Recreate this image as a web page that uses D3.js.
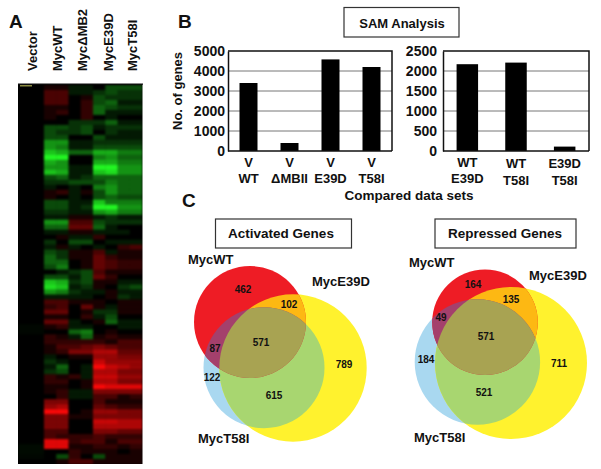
<!DOCTYPE html>
<html><head><meta charset="utf-8">
<script src="https://cdn.jsdelivr.net/npm/d3@7"></script>
<style>html,body{margin:0;padding:0;background:#fff}svg{display:block}text{font-family:"Liberation Sans",Arial,sans-serif;font-weight:bold;fill:#111}</style>
</head><body><svg id="c" width="601" height="469"></svg>
<script>
// ---- Heat map values: negative = green, positive = red (scale -10..10)
const heatColumns = ["Vector","MycWT","Myc\u0394MB2","MycE39D","MycT58I"];
const vector = [0,0,0,0,0,0,0,0,0,0,0,0,0,0,0,0,0,0,0,0,0,0,0,0,0,0,0,0,0,0,0,0,0,0,0,0,0,0,0,0,0,0,0,0,0,0,0,0,-0.3,-0.3,0,0,0,0,0,0,0,0,0,0,0,0,0,0,0,0,0,0,0,0,0,0,-0.4,-0.4,-0.3,0];
const wt1 = [1,3,3,3,1,1,1,0,-3,-3,-3,-6,-6,-8,-10,-7,-6,-8,-3,-2,-1,1,1,-3,-3,-2,-1,-6,-4,-1,0,-2,-1,-3,-4,-4,-3,0,-3,-8,-9,-6,-1,3,2,4,1,4,1,0,2,2,1,1,-1,-2,-1,-2,2,2,1,1,0,5,6,10,5,5,5,3,3,9,9,0,0,0];
const wt2 = [1,3,3,3,1,2,0,0,-3,-2,-3,-6,-5,-7,-10,-6,-6,-7,-4,-2,0,2,0,-3,-3,-2,-1,-6,-4,-1,1,0,1,-2,-2,-4,-5,-1,-3,-7,-8,-5,-1,3,3,4,1,4,2,0,1,2,3,2,0,-1,-4,-3,1,2,1,2,2,5,7,10,5,5,5,3,2,9,9,0,-3,1];
const mb1 = [-1,-1,0,0,0,0,0,-2,-2,-2,0,-1,-1,-4,0,0,-1,-1,-1,-3,-1,-1,-1,-1,-1,-1,1,3,4,1,-1,-3,-1,1,1,0,0,-2,-1,-2,-1,-2,-1,1,0,0,0,-1,-1,-4,-1,2,3,5,1,0,0,0,2,0,0,-1,-1,0,0,0,1,0,0,0,2,2,1,2,2,3];
const mb2 = [-1,-1,1,2,2,2,2,-2,-3,-3,0,-1,-1,-4,0,0,-1,-1,-2,-3,0,1,0,-1,-2,-1,1,3,4,1,-1,-3,0,1,1,1,1,-3,-3,-3,-2,-1,-1,1,4,1,2,0,-1,-5,-4,2,4,5,1,0,-1,-1,-1,1,1,-1,-1,0,0,1,1,0,0,0,2,3,1,1,0,3];
const e1 = [0,-2,-3,-3,-4,-4,0,-2,-1,0,-3,-2,-3,-7,-5,-7,-10,-8,-4,-3,-5,-3,-3,-8,-10,-6,-1,-3,-4,-1,2,0,-1,3,4,4,4,3,4,1,1,-1,0,1,1,-2,-1,1,0,0,1,2,5,7,6,8,10,7,8,7,10,5,3,3,4,6,5,8,7,5,3,3,2,1,-3,1];
const e2 = [-3,-3,-2,-4,-3,-1,-1,-4,-2,-2,-1,-2,-3,-7,-6,-7,-10,-9,-4,-5,-6,-6,-4,-5,-10,-7,-2,-2,-1,-1,0,-1,0,-1,2,3,3,1,2,1,0,1,1,0,-1,-2,-3,-4,0,1,2,1,4,7,6,6,8,7,8,7,9,5,3,1,3,6,5,8,7,5,2,1,2,1,1,1];
const t1 = [-3,-2,-2,-1,-2,-1,0,-1,-2,-1,-1,-2,-3,-5,-4,-5,-6,-6,-4,-4,-4,-4,-3,-5,-6,-5,-1,-2,0,-1,0,-1,2,1,1,2,2,1,0,-1,-2,-1,-2,1,1,1,0,-1,-1,0,1,3,3,4,5,6,7,5,6,5,9,5,1,1,2,5,5,7,7,4,2,3,1,0,1,1];
const t2 = [-3,-2,-2,-1,-2,-1,0,-1,-2,-1,-1,-2,-3,-5,-4,-5,-6,-6,-4,-4,-4,-4,-3,-5,-6,-5,-1,-2,0,0,0,-1,3,1,1,2,2,1,0,-1,-3,-1,-1,1,1,1,0,-1,-1,0,1,3,3,4,5,6,6,5,6,5,9,5,2,1,2,5,5,7,7,4,2,3,2,1,1,1];

// ---- Bar charts
const barCatsLeft = [["V","WT"],["V","\u0394MBII"],["V","E39D"],["V","T58I"]];
const barValsLeft = [3400,400,4580,4200];
const barTicksLeft = [0,1000,2000,3000,4000,5000];
const barCatsRight = [["WT","E39D"],["WT","T58I"],["E39D","T58I"]];
const barValsRight = [2170,2210,110];
const barTicksRight = [0,500,1000,1500,2000,2500];

// ---- Venn counts and set names
const setNames = ["MycWT","MycE39D","MycT58I"];
const activatedCounts = [462,102,571,87,122,789,615];
const repressedCounts = [164,135,571,49,184,711,521];

const svg = d3.select("#c");
svg.append("rect").attr("width",601).attr("height",469).attr("fill","#fff");

// ---------- Panel letters
[["A",9,28],["B",178,28],["C",182,207]].forEach(([t,x,y])=>{
  svg.append("text").attr("x",x).attr("y",y).attr("font-size",19).text(t);
});

// ---------- Heat map
const hmX = d3.scaleLinear().domain([0,8]).range([44,142]);
const hmY = d3.scaleBand().domain(d3.range(76)).range([85,464]);
const hmColor = d3.scaleLinear().domain([-10,0,10]).range(["#22f522","#000","#f80808"]);
svg.append("clipPath").attr("id","hmclip").append("rect").attr("x",18).attr("y",84).attr("width",124.5).attr("height",380);
const hmOuter = svg.append("g").attr("clip-path","url(#hmclip)");
const hm = hmOuter.append("g").style("filter","blur(1px)");
hm.append("rect").attr("x",14).attr("y",80).attr("width",132).attr("height",388).attr("fill","#000");
vector.forEach((v,i)=>hm.append("rect").attr("x",18).attr("y",hmY(i)).attr("width",26).attr("height",hmY.bandwidth()+.5).attr("fill",hmColor(v)));
[wt1,wt2,mb1,mb2,e1,e2,t1,t2].forEach((col,c)=>{
  hm.selectAll(null).data(col).join("rect")
    .attr("x",hmX(c)).attr("width",hmX(c+1)-hmX(c)+.5)
    .attr("y",(d,i)=>hmY(i)).attr("height",hmY.bandwidth()+.5)
    .attr("fill",d=>hmColor(d));
});
svg.append("rect").attr("x",20).attr("y",85).attr("width",12).attr("height",1.5).attr("fill","#8a8a40");
svg.append("rect").attr("x",18).attr("y",83.5).attr("width",125).attr("height",1.2).attr("fill","#111");
const colCentres = [32,57,82,108,132];
heatColumns.forEach((t,i)=>{
  svg.append("text").attr("transform",`translate(${colCentres[i]+4.5},71) rotate(-90)`).attr("font-size",13).text(t);
});

// ---------- Bar charts
function barChart(vals,cats,ticks,x0,x1,bw,labelRight,lineYs){
  const y = d3.scaleLinear().domain([0,ticks[ticks.length-1]]).range([151,51]);
  const x = d3.scaleBand().domain(d3.range(vals.length)).range([x0,x1]);
  const g = svg.append("g");
  g.selectAll("line.g").data(ticks.slice(1,-1)).join("line")
    .attr("x1",x0).attr("x2",x1).attr("y1",d=>y(d)).attr("y2",d=>y(d))
    .attr("stroke","#777").attr("stroke-width",1);
  g.selectAll("rect").data(vals).join("rect")
    .attr("x",(d,i)=>x(i)+x.bandwidth()/2-bw/2).attr("width",bw)
    .attr("y",d=>y(d)).attr("height",d=>y(0)-y(d)).attr("fill","#000");
  g.append("path").attr("d",`M${x0},51H${x1}V151`).attr("fill","none").attr("stroke","#111").attr("stroke-width",1.5);
  const ax = g.append("g").attr("transform",`translate(${x0},0)`)
    .call(d3.axisLeft(y).tickValues(ticks).tickSize(0).tickPadding(labelRight).tickFormat(d3.format("d")));
  ax.select(".domain").attr("stroke","#111").attr("stroke-width",1.5);
  ax.selectAll("text").attr("font-size",14).attr("font-family",'"Liberation Sans",Arial,sans-serif').attr("fill","#111");
  g.append("line").attr("x1",x0).attr("x2",x1).attr("y1",151).attr("y2",151).attr("stroke","#111").attr("stroke-width",1.5);
  cats.forEach((c,i)=>{
    c.forEach((t,j)=>{
      g.append("text").attr("x",x(i)+x.bandwidth()/2).attr("y",lineYs(i)[j])
       .attr("text-anchor","middle").attr("font-size",13).text(t);
    });
  });
}
barChart(barValsLeft,barCatsLeft,barTicksLeft,228,392,18,3,()=>[167,183]);
barChart(barValsRight,barCatsRight,barTicksRight,443,589,21.5,6,i=>i===0?[167,183]:[168,185]);
svg.append("text").attr("transform","translate(182,91) rotate(-90)").attr("text-anchor","middle").attr("font-size",13).text("No. of genes");
svg.append("text").attr("x",409).attr("y",200).attr("text-anchor","middle").attr("font-size",13.5).text("Compared data sets");

// ---------- Title boxes
function titleBox(x,y,w,h,t,cx,by,fs){
  svg.append("rect").attr("x",x).attr("y",y).attr("width",w).attr("height",h).attr("fill","#fff").attr("stroke","#333").attr("stroke-width",1.2);
  svg.append("text").attr("x",cx).attr("y",by).attr("text-anchor","middle").attr("font-size",fs).text(t);
}
titleBox(344,7.5,115,29.5,"SAM Analysis",402,28,13);
titleBox(215.5,219,136,29,"Activated Genes",281,238,13.5);
titleBox(435,219,141,29,"Repressed Genes",505,238,13.5);

// ---------- Venn diagrams
const vennFill = {r:"#ee1c25",y:"#fff22e",b:"#a9d8f0",ry:"#fdb813",rb:"#a4406c",yb:"#a8d670",ryb:"#a8a352"};
function venn(id,circ,counts,countPos,namePos){
  const g = svg.append("g");
  const defs = g.append("defs");
  Object.entries(circ).forEach(([k,c])=>{
    defs.append("clipPath").attr("id",id+k).append("circle").attr("cx",c[0]).attr("cy",c[1]).attr("r",c[2]);
  });
  const disc=(k,fill,parent)=>parent.append("circle").attr("cx",circ[k][0]).attr("cy",circ[k][1]).attr("r",circ[k][2]).attr("fill",fill);
  disc("b",vennFill.b,g); disc("y",vennFill.y,g); disc("r",vennFill.r,g);
  disc("y",vennFill.yb,g.append("g").attr("clip-path",`url(#${id}b)`));
  disc("y",vennFill.ry,g.append("g").attr("clip-path",`url(#${id}r)`));
  disc("b",vennFill.rb,g.append("g").attr("clip-path",`url(#${id}r)`));
  disc("b",vennFill.ryb,g.append("g").attr("clip-path",`url(#${id}r)`).append("g").attr("clip-path",`url(#${id}y)`));
  counts.forEach((n,i)=>{
    g.append("text").attr("x",countPos[i][0]).attr("y",countPos[i][1]).attr("text-anchor","middle").attr("font-size",10).text(n);
  });
  setNames.forEach((n,i)=>{
    g.append("text").attr("x",namePos[i][0]).attr("y",namePos[i][1]).attr("font-size",13).text(n);
  });
}
venn("a",{r:[250,322,56],y:[293,368,73.7],b:[264,367.7,60.5]},activatedCounts,
  [[243,293],[289,308],[261,346],[215,352],[212,381],[344,368],[274,399]],
  [[188,264],[312,286],[198,443]]);
venn("p",{r:[485,322.3,52.8],y:[511,363,76],b:[477.4,362,62.7]},repressedCounts,
  [[473,288],[511,303],[486,340],[441,321],[426,363],[559,367],[484,396]],
  [[409,267],[529,280],[414,442]]);
</script></body></html>
